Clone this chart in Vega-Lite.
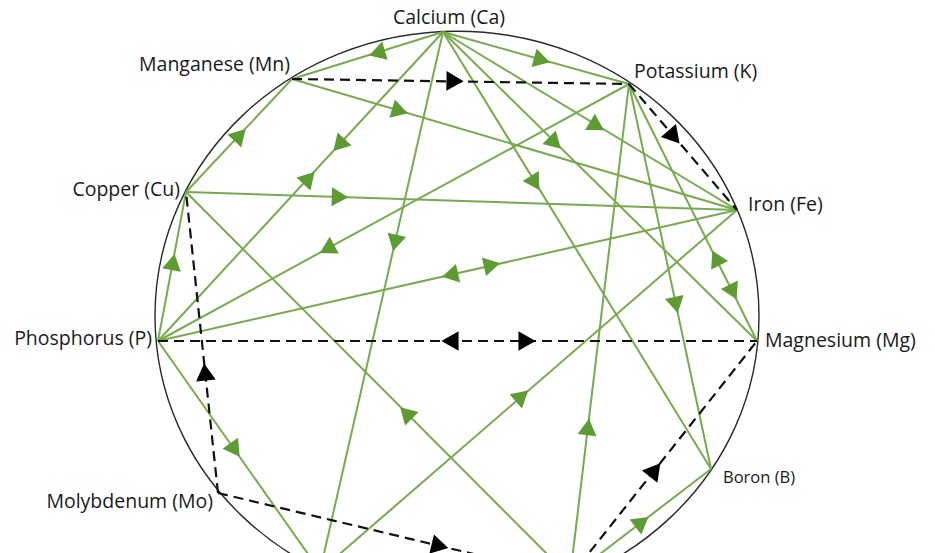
{
  "$schema": "https://vega.github.io/schema/vega-lite/v6.json",
  "width": 935,
  "height": 553,
  "autosize": "none",
  "padding": 0,
  "background": "white",
  "config": {"view": {"stroke": null}},
  "datasets": {
    "nodes": [
      {"id": "Ca", "label": "Calcium (Ca)", "x": 443, "y": 32, "lx": 449, "ly": 18},
      {"id": "K", "label": "Potassium (K)", "x": 629, "y": 84, "lx": 634, "ly": 72},
      {"id": "Mn", "label": "Manganese (Mn)", "x": 292, "y": 79, "lx": 290, "ly": 65},
      {"id": "Cu", "label": "Copper (Cu)", "x": 186, "y": 192, "lx": 180, "ly": 190},
      {"id": "Fe", "label": "Iron (Fe)", "x": 737, "y": 210, "lx": 748, "ly": 205},
      {"id": "P", "label": "Phosphorus (P)", "x": 158, "y": 341, "lx": 152, "ly": 339},
      {"id": "Mg", "label": "Magnesium (Mg)", "x": 757, "y": 341, "lx": 765, "ly": 341},
      {"id": "B", "label": "Boron (B)", "x": 711, "y": 469, "lx": 723, "ly": 478},
      {"id": "Mo", "label": "Molybdenum (Mo)", "x": 218, "y": 493, "lx": 213, "ly": 502}
    ],
    "edges": [
      {"from": "Ca", "to": "Mn", "kind": "antagonism", "x1": 443, "y1": 32, "x2": 292, "y2": 79},
      {"from": "Ca", "to": "K", "kind": "antagonism", "x1": 443, "y1": 32, "x2": 629, "y2": 84},
      {"from": "Ca", "to": "Fe", "kind": "antagonism", "x1": 443, "y1": 32, "x2": 737, "y2": 210},
      {"from": "Ca", "to": "Mg", "kind": "antagonism", "x1": 443, "y1": 32, "x2": 757, "y2": 341},
      {"from": "Ca", "to": "B", "kind": "antagonism", "x1": 443, "y1": 32, "x2": 711, "y2": 469},
      {"from": "Ca", "to": "N", "kind": "antagonism", "x1": 443, "y1": 32, "x2": 320, "y2": 571},
      {"from": "Ca", "to": "P", "kind": "antagonism", "x1": 443, "y1": 32, "x2": 158, "y2": 341},
      {"from": "Cu", "to": "Mn", "kind": "antagonism", "x1": 186, "y1": 192, "x2": 292, "y2": 79},
      {"from": "Mn", "to": "Fe", "kind": "antagonism", "x1": 292, "y1": 79, "x2": 737, "y2": 210},
      {"from": "Cu", "to": "Fe", "kind": "antagonism", "x1": 186, "y1": 192, "x2": 737, "y2": 210},
      {"from": "P", "to": "Cu", "kind": "antagonism", "x1": 158, "y1": 341, "x2": 186, "y2": 192},
      {"from": "K", "to": "P", "kind": "antagonism", "x1": 629, "y1": 84, "x2": 158, "y2": 341},
      {"from": "P", "to": "Fe", "kind": "antagonism", "x1": 158, "y1": 341, "x2": 737, "y2": 210},
      {"from": "K", "to": "Mg", "kind": "antagonism", "x1": 629, "y1": 84, "x2": 757, "y2": 341},
      {"from": "K", "to": "B", "kind": "antagonism", "x1": 629, "y1": 84, "x2": 711, "y2": 469},
      {"from": "Zn", "to": "K", "kind": "antagonism", "x1": 570, "y1": 577, "x2": 629, "y2": 84},
      {"from": "N", "to": "Fe", "kind": "antagonism", "x1": 320, "y1": 571, "x2": 737, "y2": 210},
      {"from": "P", "to": "N", "kind": "antagonism", "x1": 158, "y1": 341, "x2": 320, "y2": 571},
      {"from": "Zn", "to": "Cu", "kind": "antagonism", "x1": 570, "y1": 577, "x2": 186, "y2": 192},
      {"from": "Zn", "to": "B", "kind": "antagonism", "x1": 570, "y1": 577, "x2": 711, "y2": 469},
      {"from": "Mn", "to": "K", "kind": "synergism", "x1": 292, "y1": 79, "x2": 629, "y2": 84},
      {"from": "K", "to": "Fe", "kind": "synergism", "x1": 629, "y1": 84, "x2": 737, "y2": 210},
      {"from": "P", "to": "Mg", "kind": "synergism", "x1": 158, "y1": 341, "x2": 757, "y2": 341},
      {"from": "Mo", "to": "Cu", "kind": "synergism", "x1": 218, "y1": 493, "x2": 186, "y2": 192},
      {"from": "Mo", "to": "Zn", "kind": "synergism", "x1": 218, "y1": 493, "x2": 570, "y2": 577},
      {"from": "Zn", "to": "Mg", "kind": "synergism", "x1": 570, "y1": 577, "x2": 757, "y2": 341}
    ],
    "arrows": [
      {"kind": "antagonism", "x": 377, "y": 53, "angle": 253.1},
      {"kind": "antagonism", "x": 542, "y": 60, "angle": 105.3},
      {"kind": "antagonism", "x": 597, "y": 126, "angle": 121.0},
      {"kind": "antagonism", "x": 555, "y": 143, "angle": 134.4},
      {"kind": "antagonism", "x": 535, "y": 183, "angle": 148.4},
      {"kind": "antagonism", "x": 395, "y": 243, "angle": 192.9},
      {"kind": "antagonism", "x": 339, "y": 145, "angle": 222.8},
      {"kind": "antagonism", "x": 309, "y": 178, "angle": 42.8},
      {"kind": "antagonism", "x": 240, "y": 135, "angle": 43.2},
      {"kind": "antagonism", "x": 400, "y": 111, "angle": 106.4},
      {"kind": "antagonism", "x": 340, "y": 197, "angle": 91.9},
      {"kind": "antagonism", "x": 173, "y": 262, "angle": 10.6},
      {"kind": "antagonism", "x": 327, "y": 249, "angle": 241.4},
      {"kind": "antagonism", "x": 450, "y": 275, "angle": 257.3},
      {"kind": "antagonism", "x": 492, "y": 265, "angle": 77.3},
      {"kind": "antagonism", "x": 716, "y": 258, "angle": 333.5},
      {"kind": "antagonism", "x": 733, "y": 292, "angle": 153.5},
      {"kind": "antagonism", "x": 676, "y": 305, "angle": 168.0},
      {"kind": "antagonism", "x": 588, "y": 427, "angle": 6.8},
      {"kind": "antagonism", "x": 522, "y": 396, "angle": 49.1},
      {"kind": "antagonism", "x": 235, "y": 450, "angle": 144.8},
      {"kind": "antagonism", "x": 406, "y": 413, "angle": 315.1},
      {"kind": "antagonism", "x": 642, "y": 522, "angle": 52.5},
      {"kind": "synergism", "x": 455, "y": 81, "angle": 90.9},
      {"kind": "synergism", "x": 674, "y": 137, "angle": 139.4},
      {"kind": "synergism", "x": 450, "y": 341, "angle": 270},
      {"kind": "synergism", "x": 527, "y": 341, "angle": 90},
      {"kind": "synergism", "x": 205, "y": 372, "angle": 353.9},
      {"kind": "synergism", "x": 440, "y": 546, "angle": 103.4},
      {"kind": "synergism", "x": 655, "y": 470, "angle": 38.4}
    ]
  },
  "layer": [
    {
      "data": {"values": [{"shape": "ring"}]},
      "mark": {
        "type": "point",
        "shape": "M 1 0 C 1 0.5208 0.5523 0.943 0 0.943 C -0.5523 0.943 -1 0.5208 -1 0 C -1 -0.5208 -0.5523 -0.943 0 -0.943 C 0.5523 -0.943 1 -0.5208 1 0 Z",
        "size": 364816,
        "filled": false,
        "stroke": "#2a2a2a",
        "strokeWidth": 1.4,
        "opacity": 1,
        "clip": true
      },
      "encoding": {
        "x": {"datum": 457, "type": "quantitative", "scale": {"domain": [0, 935], "nice": false, "zero": false}, "axis": null},
        "y": {"datum": 316, "type": "quantitative", "scale": {"domain": [0, 553], "nice": false, "zero": false, "reverse": true}, "axis": null}
      }
    },
    {
      "data": {"name": "edges"},
      "transform": [{"filter": "datum.kind === 'antagonism'"}],
      "mark": {"type": "rule", "stroke": "#77ab4c", "strokeWidth": 2, "clip": true},
      "encoding": {
        "x": {"field": "x1", "type": "quantitative", "scale": {"domain": [0, 935], "nice": false, "zero": false}, "axis": null},
        "y": {"field": "y1", "type": "quantitative", "scale": {"domain": [0, 553], "nice": false, "zero": false, "reverse": true}, "axis": null},
        "x2": {"field": "x2"},
        "y2": {"field": "y2"}
      }
    },
    {
      "data": {"name": "edges"},
      "transform": [{"filter": "datum.kind === 'synergism'"}],
      "mark": {"type": "rule", "stroke": "#111111", "strokeWidth": 2.2, "strokeDash": [10, 6], "clip": true},
      "encoding": {
        "x": {"field": "x1", "type": "quantitative", "scale": {"domain": [0, 935], "nice": false, "zero": false}, "axis": null},
        "y": {"field": "y1", "type": "quantitative", "scale": {"domain": [0, 553], "nice": false, "zero": false, "reverse": true}, "axis": null},
        "x2": {"field": "x2"},
        "y2": {"field": "y2"}
      }
    },
    {
      "data": {"name": "arrows"},
      "transform": [{"filter": "datum.kind === 'antagonism'"}],
      "mark": {"type": "point", "shape": "triangle-up", "filled": true, "size": 360, "color": "#5e9b33", "opacity": 1, "strokeWidth": 0, "clip": true},
      "encoding": {
        "x": {"field": "x", "type": "quantitative", "scale": {"domain": [0, 935], "nice": false, "zero": false}, "axis": null},
        "y": {"field": "y", "type": "quantitative", "scale": {"domain": [0, 553], "nice": false, "zero": false, "reverse": true}, "axis": null},
        "angle": {"field": "angle", "type": "quantitative", "scale": null}
      }
    },
    {
      "data": {"name": "arrows"},
      "transform": [{"filter": "datum.kind === 'synergism'"}],
      "mark": {"type": "point", "shape": "triangle-up", "filled": true, "size": 390, "color": "#000000", "opacity": 1, "strokeWidth": 0, "clip": true},
      "encoding": {
        "x": {"field": "x", "type": "quantitative", "scale": {"domain": [0, 935], "nice": false, "zero": false}, "axis": null},
        "y": {"field": "y", "type": "quantitative", "scale": {"domain": [0, 553], "nice": false, "zero": false, "reverse": true}, "axis": null},
        "angle": {"field": "angle", "type": "quantitative", "scale": null}
      }
    },
    {
      "data": {"name": "nodes"},
      "transform": [{"filter": {"field": "id", "oneOf": ["Ca"]}}],
      "mark": {"type": "text", "align": "center", "baseline": "middle", "font": "Open Sans", "fontSize": 19.5, "color": "#1a1a1a"},
      "encoding": {
        "x": {"field": "lx", "type": "quantitative", "scale": {"domain": [0, 935], "nice": false, "zero": false}, "axis": null},
        "y": {"field": "ly", "type": "quantitative", "scale": {"domain": [0, 553], "nice": false, "zero": false, "reverse": true}, "axis": null},
        "text": {"field": "label"}
      }
    },
    {
      "data": {"name": "nodes"},
      "transform": [{"filter": {"field": "id", "oneOf": ["K", "Fe", "Mg"]}}],
      "mark": {"type": "text", "align": "left", "baseline": "middle", "font": "Open Sans", "fontSize": 19.5, "color": "#1a1a1a"},
      "encoding": {
        "x": {"field": "lx", "type": "quantitative", "scale": {"domain": [0, 935], "nice": false, "zero": false}, "axis": null},
        "y": {"field": "ly", "type": "quantitative", "scale": {"domain": [0, 553], "nice": false, "zero": false, "reverse": true}, "axis": null},
        "text": {"field": "label"}
      }
    },
    {
      "data": {"name": "nodes"},
      "transform": [{"filter": {"field": "id", "oneOf": ["B"]}}],
      "mark": {"type": "text", "align": "left", "baseline": "middle", "font": "Open Sans", "fontSize": 16.5, "color": "#1a1a1a"},
      "encoding": {
        "x": {"field": "lx", "type": "quantitative", "scale": {"domain": [0, 935], "nice": false, "zero": false}, "axis": null},
        "y": {"field": "ly", "type": "quantitative", "scale": {"domain": [0, 553], "nice": false, "zero": false, "reverse": true}, "axis": null},
        "text": {"field": "label"}
      }
    },
    {
      "data": {"name": "nodes"},
      "transform": [{"filter": {"field": "id", "oneOf": ["Mn", "Cu", "P", "Mo"]}}],
      "mark": {"type": "text", "align": "right", "baseline": "middle", "font": "Open Sans", "fontSize": 19.5, "color": "#1a1a1a"},
      "encoding": {
        "x": {"field": "lx", "type": "quantitative", "scale": {"domain": [0, 935], "nice": false, "zero": false}, "axis": null},
        "y": {"field": "ly", "type": "quantitative", "scale": {"domain": [0, 553], "nice": false, "zero": false, "reverse": true}, "axis": null},
        "text": {"field": "label"}
      }
    }
  ]
}
